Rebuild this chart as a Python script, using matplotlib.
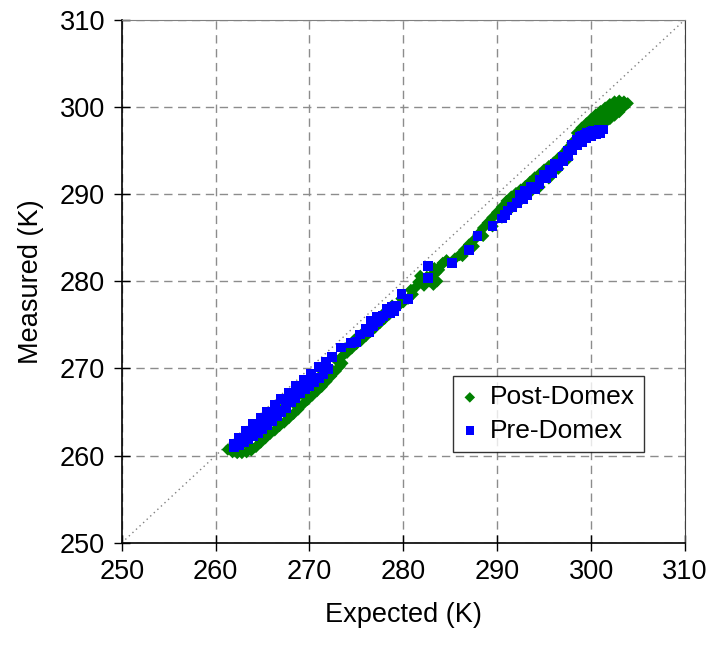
import matplotlib
matplotlib.use("Agg")
import matplotlib.pyplot as plt

# Post-Domex (green diamonds)
post_x = [261.3, 261.8, 262.3, 262.8, 263.3, 263.8, 264.3, 264.8, 265.3, 265.8, 266.3, 266.8,
          267.3, 267.8, 268.3, 268.8, 269.3, 269.8, 270.3, 270.8, 271.3, 271.8, 272.3, 272.8, 273.2,
          262.5, 263.5, 264.5, 265.5, 266.5, 267.5, 268.5, 269.5, 270.5, 271.5, 272.5, 273.5,
          262.0, 263.0, 264.0, 265.0, 266.0, 267.0, 268.0, 269.0, 270.0, 271.0, 272.0, 273.0,
          273.5, 274.0, 274.5, 275.0, 275.5, 276.0, 276.5, 277.0, 277.5, 278.0, 278.5, 279.0,
          279.5, 280.0, 280.5, 281.0,
          273.8, 274.8, 275.8, 276.8, 277.8, 278.8, 279.8, 280.8,
          281.4, 281.6, 282.0, 282.5, 283.0, 283.5, 283.8, 284.2, 284.6, 283.2, 283.6, 282.2,
          282.8, 281.8, 283.3, 284.0,
          285.5, 286.0, 286.5, 287.0, 287.5, 288.0, 288.5, 289.0, 289.5, 290.0, 290.5, 291.0,
          291.5, 292.0, 292.5, 293.0, 293.5, 294.0, 294.5, 295.0, 295.5, 296.0, 296.5, 297.0,
          297.5, 298.0,
          286.3, 287.5, 288.5, 289.5, 290.5, 291.5, 292.5, 293.5, 294.5, 295.5, 296.5, 297.5,
          298.5, 299.0, 299.5, 300.0, 300.5, 301.0, 301.5, 302.0, 302.5, 303.0, 303.5, 303.9,
          299.5, 300.0, 300.5, 301.0, 301.5, 302.0, 302.5, 303.0, 303.5,
          301.0, 301.5, 302.0, 302.5, 303.0]
post_y = [260.7, 260.4, 260.3, 260.3, 260.4, 260.6, 261.0, 261.5, 262.0, 262.5, 262.9, 263.4,
          263.8, 264.3, 264.8, 265.3, 265.9, 266.4, 266.9, 267.4, 267.9, 268.5, 269.1, 269.7, 270.2,
          261.0, 261.3, 262.0, 263.0, 263.9, 264.9, 265.8, 266.8, 267.8, 268.7, 269.7, 270.6,
          261.3, 261.5, 262.4, 263.4, 264.3, 265.3, 266.2, 267.1, 268.1, 269.0, 270.0, 270.8,
          271.4, 271.8, 272.3, 272.8, 273.2, 273.7, 274.2, 274.7, 275.2, 275.7, 276.2, 276.7,
          277.2, 277.6, 278.0, 278.5,
          272.3, 273.3, 274.2, 275.2, 276.2, 277.2, 278.0, 279.0,
          279.4, 279.9, 280.2, 280.5, 280.7, 281.0, 281.3, 282.1, 282.4, 279.6, 280.0, 279.5,
          280.0, 280.6, 281.5, 281.8,
          282.6, 283.0, 283.6, 284.2, 284.7, 285.4, 286.1, 286.7, 287.3, 287.9, 288.5, 289.2,
          289.7, 290.1, 290.5, 290.9, 291.4, 291.9, 292.3, 292.8, 293.2, 293.6, 294.1, 294.6,
          295.2, 295.9,
          282.9, 284.0, 285.2, 286.3, 287.3, 288.4, 289.3, 290.2, 290.8, 291.8, 292.9, 294.0,
          297.0, 297.6, 298.1, 298.6, 299.1, 299.5, 299.9, 300.3, 300.6, 300.7, 300.6, 300.4,
          297.2, 297.6, 298.0, 298.5, 298.9, 299.3, 299.7, 300.0, 300.0,
          297.9, 298.2, 298.6, 299.0, 299.4]

# Pre-Domex (blue squares)
pre_x = [262.0, 262.5, 263.0, 263.5, 264.0, 264.5, 265.0, 265.5, 266.0, 266.5, 267.0, 267.5,
         268.0, 268.5, 269.0, 269.5, 270.0, 270.5, 271.0, 271.5, 272.0,
         261.9, 262.5, 263.2, 264.0, 264.8, 265.5, 266.3, 267.0, 267.8, 268.6, 269.4, 270.2,
         271.0, 271.8, 272.4,
         263.5, 264.5, 265.5, 266.5, 267.5, 268.5, 269.5, 270.5, 271.5,
         273.4, 274.4, 275.0, 275.4, 276.0, 276.5, 277.0, 277.3, 277.8, 278.2, 278.6, 278.8,
         279.2, 276.3, 276.8, 277.5, 278.3, 279.0, 276.5, 277.2, 279.8, 280.5,
         282.6, 282.6, 285.2, 287.0, 287.9, 289.5, 290.5, 291.1, 292.1, 292.4, 293.0, 293.6,
         294.5, 295.0, 295.6, 296.2, 297.0, 297.5, 298.0, 298.5, 299.0, 299.6, 300.2, 300.8,
         301.3,
         298.0, 298.5, 299.0, 299.5, 300.0, 300.5, 301.0, 300.0, 299.3, 298.8, 297.5, 297.0,
         296.5, 295.8, 295.2, 294.5, 294.0, 293.2, 292.8, 291.6, 290.8]
pre_y = [261.0, 261.2, 261.5, 261.9, 262.2, 262.6, 263.0, 263.5, 264.0, 264.5, 265.0, 265.5,
         266.1, 266.6, 267.2, 267.6, 268.0, 268.4, 268.9, 269.4, 269.9,
         261.4, 262.0, 262.8, 263.6, 264.3, 265.0, 265.8, 266.5, 267.2, 268.0, 268.7, 269.4,
         270.2, 270.8, 271.3,
         262.6, 263.2, 264.1, 265.1, 266.0, 266.9, 267.9, 268.9, 269.8,
         272.4, 272.9, 273.0, 273.9, 274.5, 275.0, 275.3, 275.4, 276.0, 276.3, 276.4, 277.0,
         277.2, 274.2, 274.8, 275.8, 276.8, 276.6, 275.5, 275.9, 278.5, 278.0,
         281.7, 280.4, 282.1, 283.6, 285.2, 286.3, 287.2, 288.1, 289.0, 289.9, 290.3, 290.8,
         291.6, 292.2, 292.8, 293.4, 294.3, 294.9, 295.6, 296.2, 296.7, 297.0, 297.2, 297.4,
         297.4,
         295.0, 295.6, 296.0, 296.4, 296.6, 296.9, 297.0, 297.1, 296.8, 296.5, 294.3, 293.8,
         293.2, 292.4, 291.8, 291.1, 290.6, 289.9, 289.4, 288.5, 287.6]

ticks = [250, 260, 270, 280, 290, 300, 310]

plt.rcParams['font.family'] = ['Liberation Sans', 'DejaVu Sans']
fig = plt.figure(figsize=(7.12, 6.54), dpi=100)
ax = fig.add_axes([0.171, 0.170, 0.791, 0.800])

ax.plot([250, 310], [250, 310], linestyle=(0, (1, 2.5)), color='#808080', linewidth=1.0, zorder=1)
ax.scatter(post_x, post_y, marker='D', s=40, color='#008000', edgecolors='none', label='Post-Domex', zorder=3)
ax.scatter(pre_x, pre_y, marker='s', s=50, color='#0000FF', edgecolors='none', label='Pre-Domex', zorder=4)

ax.set_xlim(250, 310)
ax.set_ylim(250, 310)
ax.set_xticks(ticks)
ax.set_yticks(ticks)
ax.tick_params(axis='both', labelsize=19.5, direction='inout', length=12, width=1.0, pad=6)
ax.grid(True, linestyle=(0, (6, 4)), color='#8c8c8c', linewidth=1.0)
ax.set_axisbelow(True)
for side in ['left', 'bottom']:
    ax.spines[side].set_color('black')
    ax.spines[side].set_linewidth(1.2)
ax.spines['top'].set_color('#808080')
ax.spines['right'].set_color('#404040')

ax.set_xlabel('Expected (K)', fontsize=19.5, labelpad=12)
ax.set_ylabel('Measured (K)', fontsize=19.5, labelpad=11)

leg = ax.legend(loc='lower right', bbox_to_anchor=(0.927, 0.174), fontsize=19, frameon=True,
                fancybox=False, edgecolor='black', handlelength=0.6, handletextpad=0.45,
                borderpad=0.35, labelspacing=0.35, markerscale=0.85, borderaxespad=0)
leg.get_frame().set_linewidth(1.0)

fig.savefig('out.png', dpi=100)
